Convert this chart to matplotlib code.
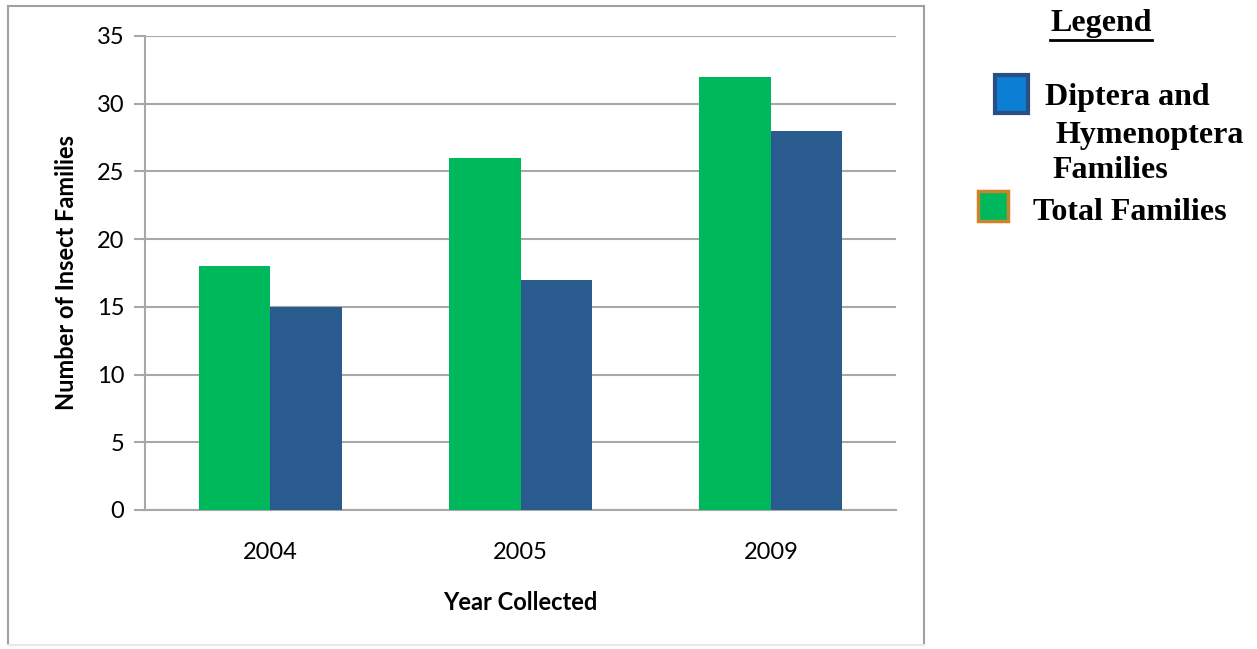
import matplotlib
matplotlib.use("Agg")
import matplotlib.pyplot as plt
from matplotlib.patches import Rectangle
import numpy as np

years = ["2004", "2005", "2009"]
total_families = [18, 26, 32]
diptera_hymenoptera = [15, 17, 28]
yticks = [0, 5, 10, 15, 20, 25, 30, 35]
legend_title = "Legend"
legend_labels = ["Diptera and\n Hymenoptera\nFamilies", "Total Families"]

W, H = 1257, 649
fig = plt.figure(figsize=(W / 100, H / 100), dpi=100)
fig.patch.set_facecolor("white")

def fx(px):
    return px / W

def fy(py):
    return 1 - py / H

# outer chart frame (left, top, right darker; bottom faint)
frame_c = "#a0a0a0"
for (x0, y0, x1, y1, c) in [(8, 645, 8, 6, frame_c), (8, 6, 924, 6, frame_c),
                            (924, 6, 924, 645, frame_c), (8, 645, 924, 645, "#e8e8e8")]:
    fig.add_artist(plt.Line2D([fx(x0), fx(x1)], [fy(y0), fy(y1)], transform=fig.transFigure,
                              color=c, linewidth=1.5))

ax = fig.add_axes([fx(145), fy(510), fx(896) - fx(145), fy(36) - fy(510)])
x = np.arange(len(years))
bw = 0.285
green = "#00B85C"
blue = "#2A5B8F"
ax.bar(x - bw / 2, total_families, bw, color=green, zorder=3)
ax.bar(x + bw / 2, diptera_hymenoptera, bw, color=blue, zorder=3)
ax.set_xlim(-0.5, 2.5)
ax.set_ylim(0, 35)
ax.set_yticks(yticks)
ax.set_xticks(x)
ax.set_xticklabels(years)
ax.yaxis.grid(True, color="#a8a8a8", linewidth=1.5, zorder=0)
for s in ["top", "right"]:
    ax.spines[s].set_visible(False)
ax.spines["left"].set_color("#a8a8a8")
ax.spines["left"].set_linewidth(1.5)
ax.spines["bottom"].set_color("#a8a8a8")
ax.spines["bottom"].set_linewidth(1.5)
ax.tick_params(axis="y", length=8, width=1.5, color="#a8a8a8", labelsize=17, pad=7)
ax.tick_params(axis="x", length=0, labelsize=17, pad=23)
for lbl in ax.get_xticklabels() + ax.get_yticklabels():
    lbl.set_fontfamily("Lato")
ax.set_xlabel("Year Collected", fontsize=17, fontweight="bold", fontfamily="Lato", labelpad=20)
ax.set_ylabel("Number of Insect Families", fontsize=17, fontweight="bold", fontfamily="Lato", labelpad=13)

# legend (drawn manually)
serif = "Liberation Serif"
fs = 23
fig.text(fx(1101), fy(24), legend_title, ha="center", va="center", fontsize=fs,
         fontweight="bold", fontfamily=serif)
fig.add_artist(plt.Line2D([fx(1050), fx(1152)], [fy(40), fy(40)], transform=fig.transFigure,
                          color="black", linewidth=2))
fig.patches.append(Rectangle((fx(995), fy(113)), fx(1028) - fx(995), fy(75) - fy(113),
                             transform=fig.transFigure, facecolor="#0A7FD4",
                             edgecolor="#2B4F82", linewidth=3))
fig.patches.append(Rectangle((fx(978), fy(221)), fx(1008) - fx(978), fy(191) - fy(221),
                             transform=fig.transFigure, facecolor=green,
                             edgecolor="#C8862A", linewidth=2.5))
lines = legend_labels[0].split("\n")
fig.text(fx(1045), fy(98), lines[0], ha="left", va="center", fontsize=fs,
         fontweight="bold", fontfamily=serif)
fig.text(fx(1056), fy(135), lines[1].strip(), ha="left", va="center", fontsize=fs,
         fontweight="bold", fontfamily=serif)
fig.text(fx(1052), fy(171), lines[2], ha="left", va="center", fontsize=fs,
         fontweight="bold", fontfamily=serif)
fig.text(fx(1033), fy(213), legend_labels[1], ha="left", va="center", fontsize=fs,
         fontweight="bold", fontfamily=serif)

fig.savefig("out.png", dpi=100, facecolor="white")
